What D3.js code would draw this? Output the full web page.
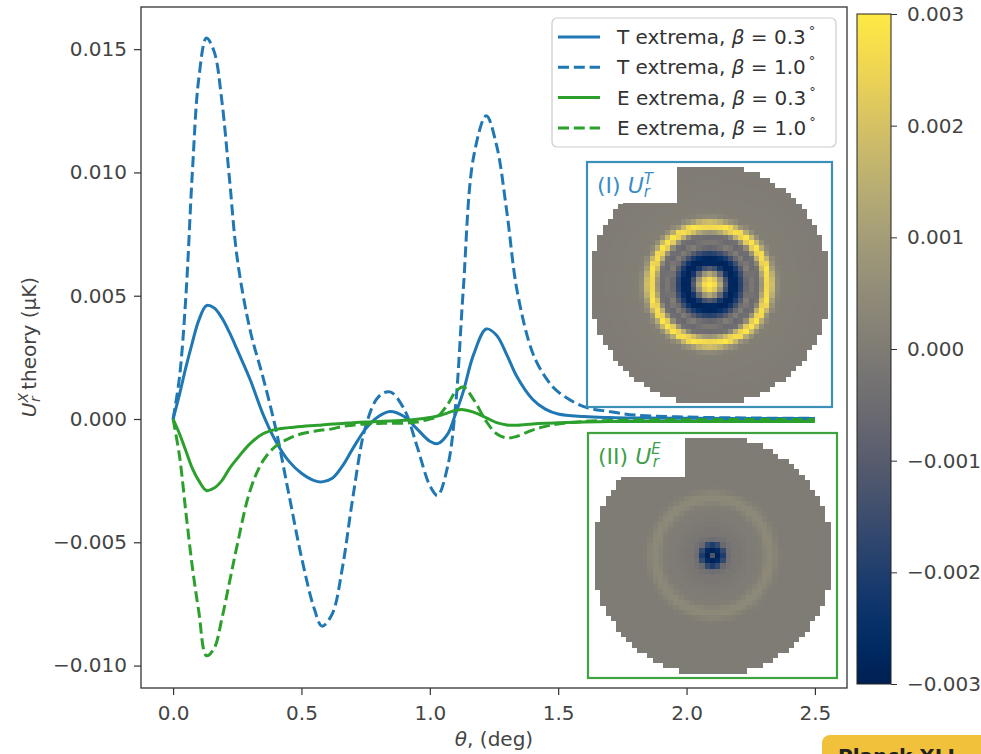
<!DOCTYPE html>
<meta charset="utf-8">
<style>
body { margin: 0; background: #fff; }
svg text { font-family: "DejaVu Sans", sans-serif; }
.tick line { stroke: #333; }
.tick text { fill: #444; }
</style>
<svg width="981" height="754"></svg>
<script src="https://d3js.org/d3.v7.min.js"></script>
<script>

// theta grid (deg) shared by the four curves
var theta = [0, 0.025, 0.05, 0.075, 0.1, 0.13, 0.16, 0.19, 0.22, 0.25, 0.3, 0.35, 0.4, 0.45, 0.5, 0.55, 0.58, 0.62, 0.66, 0.7,
  0.75, 0.8, 0.845, 0.9, 0.95, 1.0, 1.03, 1.07, 1.1, 1.13, 1.17, 1.22, 1.26, 1.3, 1.34, 1.4, 1.45, 1.5, 1.6, 1.7, 1.8, 2.0, 2.25, 2.5];

var tBeta03 = [0, 0.0010, 0.0021, 0.0031, 0.0040, 0.0046, 0.0045, 0.0041, 0.0035, 0.0028, 0.0016, 0.0002, -0.0009, -0.0017, -0.0022, -0.0025, -0.00255, -0.0024, -0.0019, -0.0012,
  -0.0004, 0.0001, 0.0003, 0.0001, -0.0004, -0.0009, -0.0010, -0.0006, 0.0002, 0.0011, 0.0026, 0.00365, 0.0034, 0.0026, 0.0017, 0.0008, 0.0004, 0.0002, 0.0001, 0.00006, 0.00004, 0.00003, 0.00002, 0.00002];

var tBeta10 = [0, 0.0017, 0.0050, 0.0100, 0.0138, 0.01545, 0.0149, 0.0129, 0.0097, 0.0065, 0.0036, 0.0017, -0.0004, -0.0030, -0.0056, -0.0077, -0.0084, -0.0079, -0.0060, -0.0032,
  -0.0003, 0.0009, 0.0011, 0.0004, -0.0011, -0.0027, -0.0031, -0.0019, 0.0005, 0.0052, 0.0106, 0.0123, 0.0111, 0.0084, 0.0052, 0.0027, 0.0017, 0.0011, 0.0005, 0.0003, 0.00016, 0.00008, 0.00004, 0.00003];

var eBeta03 = [0, -0.0006, -0.0013, -0.0020, -0.0025, -0.0029, -0.0028, -0.0025, -0.0020, -0.0016, -0.0010, -0.0006, -0.00042, -0.00035, -0.0003, -0.00026, -0.00024, -0.0002, -0.00018, -0.00015,
  -0.00012, -0.0001, -0.00008, -0.00005, -0.00001, 0.00006, 0.00012, 0.00025, 0.00035, 0.00038, 0.00028, 0.00005, -0.00015, -0.00024, -0.00025, -0.0002, -0.00017, -0.00015, -0.00012, -0.0001, -0.0001, -0.0001, -0.0001, -0.0001];

var eBeta10 = [0, -0.0015, -0.0038, -0.0060, -0.0078, -0.0096, -0.0093, -0.0081, -0.0066, -0.0051, -0.0029, -0.0017, -0.0011, -0.0008, -0.0006, -0.0005, -0.00045, -0.0004, -0.0003, -0.00025,
  -0.0002, -0.00018, -0.00017, -0.00017, -0.00012, 0.0000, 0.0001, 0.0006, 0.0011, 0.0013, 0.0008, -0.0001, -0.0006, -0.00077, -0.0007, -0.00045, -0.0003, -0.0002, -0.0001, -0.00006, -0.00004, -0.00003, -0.00002, -0.00002];

var xTicks = [0, 0.5, 1.0, 1.5, 2.0, 2.5];
var yTicks = [-0.010, -0.005, 0, 0.005, 0.010, 0.015];
var cbarTicks = [-0.003, -0.002, -0.001, 0, 0.001, 0.002, 0.003];

// radial profiles of the two inset maps (radius in px, value in uK)
var ringRadius = [0, 5, 10, 15, 20, 25, 30, 35, 40, 45, 50, 55, 60, 65, 70, 120];
var ringT = [0.0030, 0.0027, 0.0015, -0.0008, -0.0027, -0.0030, -0.0022, -0.0010, 0.0001, -0.0006, -0.0003, 0.0022, 0.0030, 0.0008, 0.0001, 0.0];
var ringE = [-0.0012, -0.0030, -0.0022, -0.0005, -0.0002, -0.00015, -0.0001, -0.00005, 0.0, 0.0, 0.0001, 0.0004, 0.0004, 0.0001, 0.0, 0.0];

var svg = d3.select("svg");

var x = d3.scaleLinear().domain([-0.125, 2.625]).range([141, 847]);
var y = d3.scaleLinear().domain([-0.01091, 0.01671]).range([688, 7]);
var color = d3.scaleSequential(d3.interpolateCividis).domain([-0.003, 0.003]).clamp(true);

var series = [
  {name: "T extrema, ", beta: "0.3", vals: tBeta03, color: "#1f77b4", dash: null},
  {name: "T extrema, ", beta: "1.0", vals: tBeta10, color: "#1f77b4", dash: "11,4.8"},
  {name: "E extrema, ", beta: "0.3", vals: eBeta03, color: "#2ca02c", dash: null},
  {name: "E extrema, ", beta: "1.0", vals: eBeta10, color: "#2ca02c", dash: "11,4.8"}
];

var line = d3.line()
  .x(function(d, i) { return x(theta[i]); })
  .y(function(d) { return y(d); })
  .curve(d3.curveCatmullRom.alpha(0.5));

svg.append("g").selectAll("path")
  .data(series)
  .enter().append("path")
  .attr("d", function(s) { return line(s.vals); })
  .attr("fill", "none")
  .attr("stroke", function(s) { return s.color; })
  .attr("stroke-width", 3)
  .attr("stroke-dasharray", function(s) { return s.dash; });

// axes
var xAxis = svg.append("g").attr("transform", "translate(0,688)")
  .call(d3.axisBottom(x).tickValues(xTicks).tickFormat(d3.format(".1f")).tickSize(7).tickPadding(11));
var yAxis = svg.append("g").attr("transform", "translate(141,0)")
  .call(d3.axisLeft(y).tickValues(yTicks).tickFormat(d3.format(".3f")).tickSize(7).tickPadding(7));
[xAxis, yAxis].forEach(function(a) {
  a.attr("font-size", 20).attr("font-family", "DejaVu Sans");
  a.select(".domain").remove();
  a.selectAll(".tick line").attr("stroke-width", 1.2);
});

svg.append("rect")
  .attr("x", 141).attr("y", 7).attr("width", 706).attr("height", 681)
  .attr("fill", "none").attr("stroke", "#333").attr("stroke-width", 1.3);

svg.append("text")
  .attr("x", 494).attr("y", 746)
  .attr("text-anchor", "middle").attr("font-size", 20).attr("fill", "#444")
  .call(function(t) {
    t.append("tspan").attr("font-style", "italic").text("θ");
    t.append("tspan").text(", (deg)");
  });

var ylab = svg.append("text")
  .attr("transform", "translate(36,347) rotate(-90)")
  .attr("text-anchor", "middle").attr("font-size", 20).attr("fill", "#444");
ylab.append("tspan").attr("font-style", "italic").text("U");
ylab.append("tspan").attr("font-style", "italic").attr("font-size", 14).attr("dy", -8).text("X");
ylab.append("tspan").attr("font-style", "italic").attr("font-size", 14).attr("dx", -9).attr("dy", 12).text("r");
ylab.append("tspan").attr("dy", -4).text(" theory (μK)");

// insets
var insets = [
  {box: {x: 587, y: 162, w: 245, h: 245}, ring: ringT, stroke: "#3b8fb9", txt: "#3a8cc4",
   lab: "(I) ", sup: "T", labBox: {w: 90, h: 41}, base: 193, supDy: -9, subDy: 4},
  {box: {x: 588, y: 433, w: 249, h: 245}, ring: ringE, stroke: "#3fa33f", txt: "#3f9e4a",
   lab: "(II) ", sup: "E", labBox: {w: 97, h: 44}, base: 464, supDy: -10, subDy: 3}
];

var nCells = 47, cs = 245 / nCells, discR = 22.9;

insets.forEach(function(ins) {
  var g = svg.append("g");
  var b = ins.box;
  var cx = b.x + b.w / 2, cy = b.y + b.h / 2;
  var prof = d3.scaleLinear().domain(ringRadius).range(ins.ring).clamp(true);
  g.append("rect").attr("x", b.x).attr("y", b.y).attr("width", b.w).attr("height", b.h).attr("fill", "#fff");
  var cells = [];
  for (var i = 0; i < nCells; i++) {
    for (var j = 0; j < nCells; j++) {
      var dx = i - (nCells - 1) / 2, dy = j - (nCells - 1) / 2;
      var rr = Math.sqrt(dx * dx + dy * dy);
      if (rr <= discR) cells.push({i: i, j: j, r: rr * cs});
    }
  }
  g.append("g").attr("shape-rendering", "crispEdges").selectAll("rect")
    .data(cells)
    .enter().append("rect")
    .attr("x", function(d) { return cx + (d.i - nCells / 2) * cs; })
    .attr("y", function(d) { return cy + (d.j - nCells / 2) * cs; })
    .attr("width", cs + 0.8).attr("height", cs + 0.8)
    .attr("fill", function(d) { return color(prof(d.r)); });
  g.append("rect").attr("x", b.x).attr("y", b.y)
    .attr("width", ins.labBox.w).attr("height", ins.labBox.h).attr("fill", "#fff");
  var t = g.append("text")
    .attr("x", b.x + 10).attr("y", ins.base)
    .attr("font-family", "Liberation Serif, serif").attr("font-size", 22).attr("fill", ins.txt);
  t.append("tspan").text(ins.lab);
  t.append("tspan").attr("font-style", "italic").text("U");
  t.append("tspan").attr("font-style", "italic").attr("font-size", 15).attr("dy", ins.supDy).text(ins.sup);
  t.append("tspan").attr("font-style", "italic").attr("font-size", 15).attr("dx", -8).attr("dy", ins.subDy - ins.supDy).text("r");
  g.append("rect").attr("x", b.x).attr("y", b.y).attr("width", b.w).attr("height", b.h)
    .attr("fill", "none").attr("stroke", ins.stroke).attr("stroke-width", 2.2);
});

// legend
var leg = svg.append("g");
leg.append("rect")
  .attr("x", 552).attr("y", 18).attr("width", 284).attr("height", 129).attr("rx", 5)
  .attr("fill", "#fff").attr("fill-opacity", 0.85).attr("stroke", "#ccc").attr("stroke-width", 1.2);
var rows = leg.selectAll("g.row").data(series).enter().append("g")
  .attr("transform", function(d, i) { return "translate(0," + (37 + i * 30.3) + ")"; });
rows.append("line")
  .attr("x1", 558).attr("x2", 600).attr("y1", 0).attr("y2", 0)
  .attr("stroke", function(s) { return s.color; }).attr("stroke-width", 3)
  .attr("stroke-dasharray", function(s) { return s.dash; });
rows.append("text")
  .attr("x", 617).attr("y", 7).attr("font-size", 20).attr("fill", "#333")
  .each(function(s) {
    var t = d3.select(this);
    t.append("tspan").text(s.name);
    t.append("tspan").attr("font-style", "italic").text("β");
    t.append("tspan").text(" = " + s.beta);
    t.append("tspan").attr("font-size", 13).attr("dy", -9).attr("dx", 3).text("°");
  });

// colorbar
var cbar = d3.scaleLinear().domain([-0.003, 0.003]).range([684, 14]);
var grad = svg.append("defs").append("linearGradient")
  .attr("id", "cgrad").attr("x1", 0).attr("y1", 1).attr("x2", 0).attr("y2", 0);
grad.selectAll("stop").data(d3.range(0, 1.0001, 0.05)).enter().append("stop")
  .attr("offset", function(d) { return d; })
  .attr("stop-color", function(d) { return d3.interpolateCividis(d); });
svg.append("rect")
  .attr("x", 857).attr("y", 14).attr("width", 34).attr("height", 670)
  .attr("fill", "url(#cgrad)").attr("stroke", "#222").attr("stroke-width", 1);
var cAxis = svg.append("g").attr("transform", "translate(891,0)")
  .call(d3.axisRight(cbar).tickValues(cbarTicks).tickFormat(d3.format(".3f")).tickSize(6).tickPadding(10));
cAxis.attr("font-size", 20).attr("font-family", "DejaVu Sans");
cAxis.select(".domain").remove();

// badge cut off at the bottom right
svg.append("rect").attr("x", 822).attr("y", 735).attr("width", 190).attr("height", 40).attr("rx", 8).attr("fill", "#f2c13c");
svg.append("text").attr("x", 838).attr("y", 763)
  .attr("font-family", "DejaVu Serif, serif").attr("font-weight", "bold").attr("font-size", 20).attr("fill", "#222")
  .text("Planck XLI");

</script>
